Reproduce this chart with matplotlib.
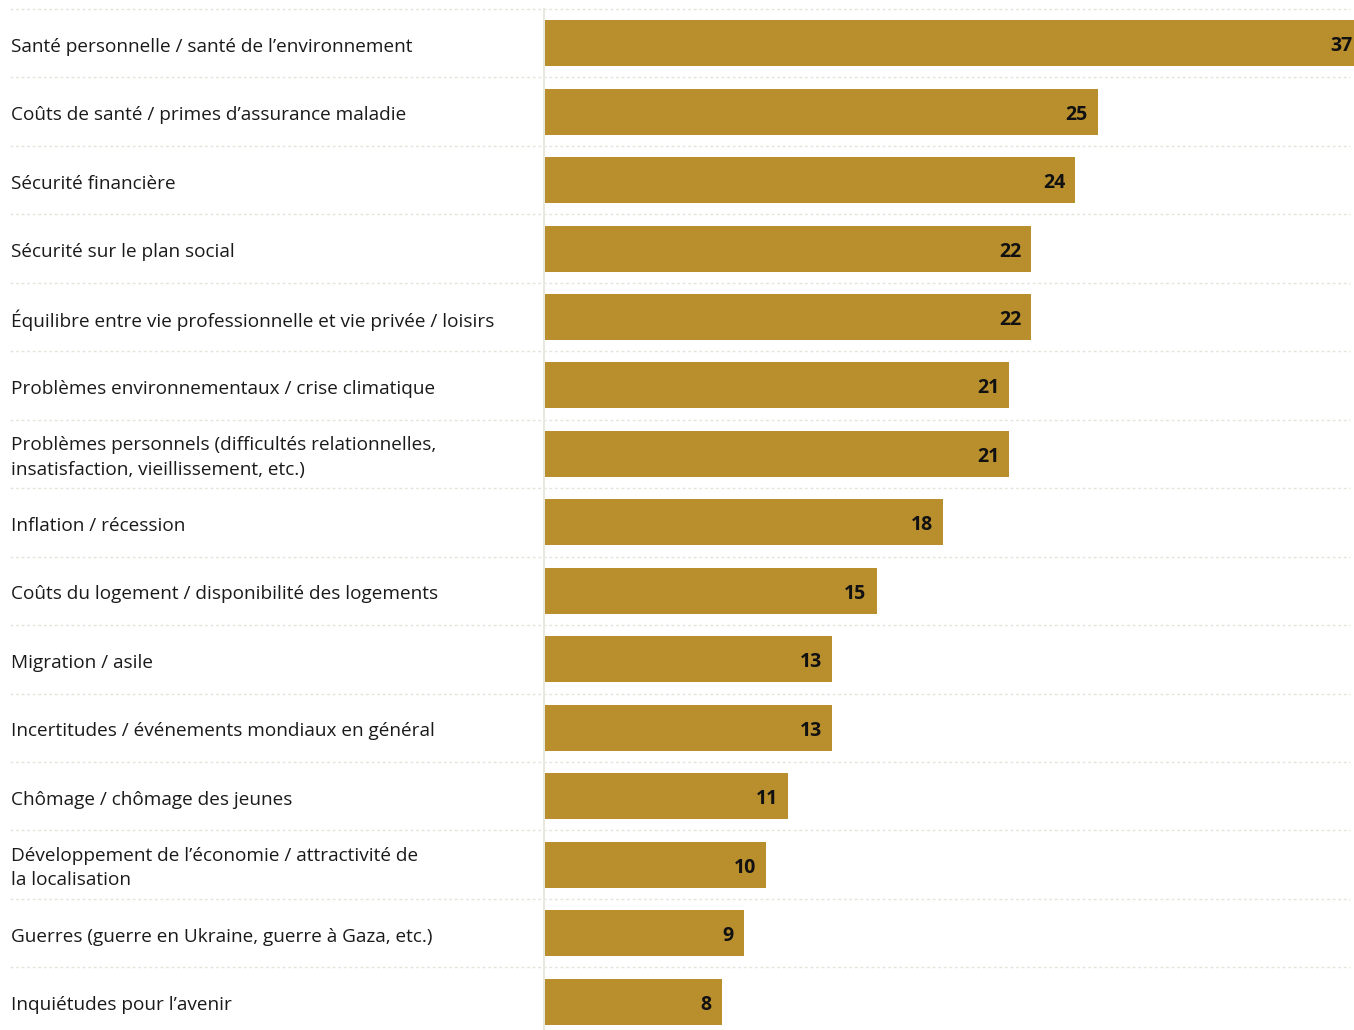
import matplotlib
matplotlib.use("Agg")
import matplotlib.pyplot as plt
import matplotlib.transforms as mtransforms

categories = [
    "Santé personnelle / santé de l’environnement",
    "Coûts de santé / primes d’assurance maladie",
    "Sécurité financière",
    "Sécurité sur le plan social",
    "Équilibre entre vie professionnelle et vie privée / loisirs",
    "Problèmes environnementaux / crise climatique",
    "Problèmes personnels (difficultés relationnelles,\ninsatisfaction, vieillissement, etc.)",
    "Inflation / récession",
    "Coûts du logement / disponibilité des logements",
    "Migration / asile",
    "Incertitudes / événements mondiaux en général",
    "Chômage / chômage des jeunes",
    "Développement de l’économie / attractivité de\nla localisation",
    "Guerres (guerre en Ukraine, guerre à Gaza, etc.)",
    "Inquiétudes pour l’avenir",
]
values = [37, 25, 24, 22, 22, 21, 21, 18, 15, 13, 13, 11, 10, 9, 8]

plt.rcParams['font.family'] = ['Open Sans', 'DejaVu Sans']

W, H = 1354, 1030
fig = plt.figure(figsize=(W / 100, H / 100), dpi=100)
fig.patch.set_facecolor("white")

n = len(categories)
row_h = 68.45
top = 9
left = 545
ax_h = n * row_h
ax = fig.add_axes([left / W, (H - top - ax_h) / H, (W - left) / W, ax_h / H])
ax.set_xlim(0, 36.6)
ax.set_ylim(n, 0)
ax.axis("off")

bar_color = "#B98F2E"
ys = [i + 0.5 for i in range(n)]
ax.barh(ys, values, height=46 / row_h, left=0, color=bar_color, edgecolor="none", zorder=2)

px_per_unit = (W - left) / 36.6
for y, v in zip(ys, values):
    ax.text(v - 10 / px_per_unit, y + 3 / row_h, str(v), ha="right", va="center",
            fontsize=14, fontweight="bold", color="#111111", zorder=3)

blend = mtransforms.blended_transform_factory(fig.transFigure, ax.transData)
for i in range(n + 1):
    ax.plot([10 / W, 1350 / W], [i, i], transform=blend, color="#e4e4da",
            lw=1.0, ls=(0, (2, 2)), clip_on=False, zorder=1)

# vertical baseline
ax.plot([-1 / px_per_unit, -1 / px_per_unit], [0, n], color="#e8e8e0", lw=1.5,
        clip_on=False, zorder=1)

for y, c in zip(ys, categories):
    ax.text(11 / W, y + 3.5 / row_h, c, transform=blend, ha="left", va="center",
            fontsize=13.7, color="#1a1a1a", linespacing=1.45)

fig.savefig("out.png", dpi=100, facecolor="white")
